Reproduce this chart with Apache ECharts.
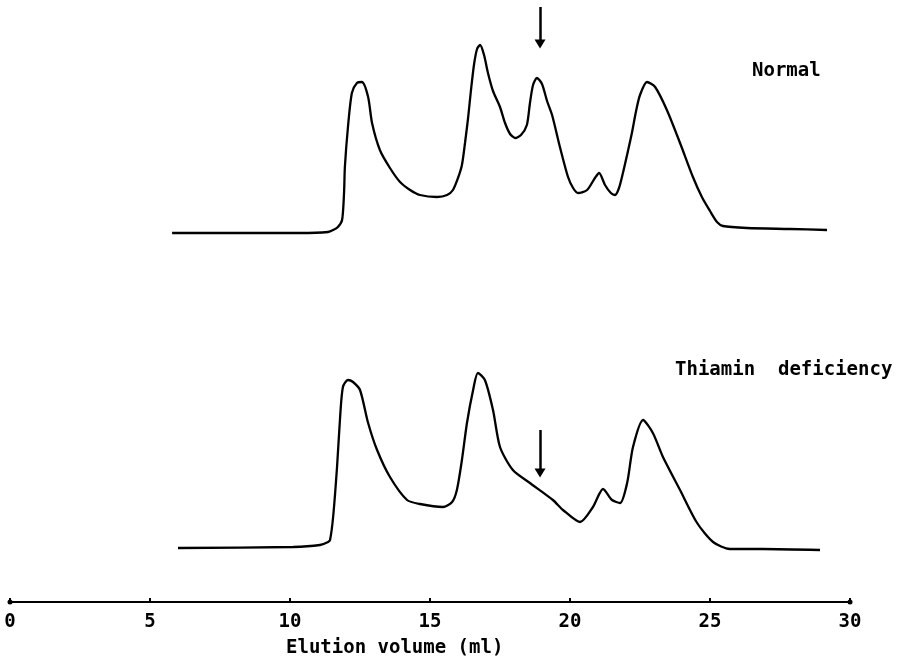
<!DOCTYPE html>
<html>
<head>
<meta charset="utf-8">
<script src="https://cdn.jsdelivr.net/npm/echarts@6/dist/echarts.min.js"></script>
<style>html,body{margin:0;padding:0;background:#fff;}#c{width:898px;height:666px;}</style>
</head>
<body>
<div id="c"></div>
<script>
// Elution volume (ml) and detector response (arbitrary units)
var normalX = [5.79, 8.57, 10.36, 11.36, 11.54, 11.71, 11.86, 11.93, 11.96, 12.07, 12.21, 12.39, 12.57, 12.79, 12.93, 13.21, 13.57, 13.93, 14.29, 14.64, 15.25, 15.61, 15.82, 16.00, 16.14, 16.25, 16.36, 16.46, 16.57, 16.68, 16.79, 16.93, 17.07, 17.25, 17.50, 17.68, 17.86, 18.04, 18.25, 18.46, 18.57, 18.68, 18.82, 19.00, 19.18, 19.36, 19.64, 19.93, 20.11, 20.29, 20.61, 20.89, 21.04, 21.25, 21.46, 21.61, 21.75, 21.89, 22.07, 22.21, 22.36, 22.50, 22.75, 23.04, 23.46, 23.93, 24.39, 24.71, 25.00, 25.25, 25.46, 26.32, 27.86, 29.18];
var normalY = [0.00, 0.00, 0.00, 0.01, 0.03, 0.06, 0.13, 0.40, 0.66, 1.06, 1.40, 1.50, 1.51, 1.36, 1.10, 0.83, 0.65, 0.51, 0.43, 0.38, 0.36, 0.38, 0.43, 0.55, 0.68, 0.90, 1.15, 1.42, 1.68, 1.84, 1.88, 1.78, 1.60, 1.42, 1.26, 1.10, 0.99, 0.95, 0.98, 1.08, 1.30, 1.48, 1.55, 1.49, 1.32, 1.18, 0.86, 0.56, 0.45, 0.40, 0.43, 0.55, 0.60, 0.48, 0.40, 0.38, 0.45, 0.60, 0.82, 1.00, 1.22, 1.38, 1.51, 1.46, 1.23, 0.90, 0.56, 0.36, 0.22, 0.11, 0.07, 0.05, 0.04, 0.03];

var thiaminX = [6.00, 10.11, 11.07, 11.36, 11.43, 11.54, 11.68, 11.79, 11.89, 12.07, 12.25, 12.50, 12.79, 13.11, 13.57, 14.18, 14.64, 15.46, 15.79, 15.96, 16.14, 16.32, 16.54, 16.71, 16.96, 17.25, 17.50, 17.96, 18.57, 19.39, 19.75, 20.36, 20.82, 21.18, 21.50, 21.79, 22.04, 22.25, 22.61, 22.96, 23.32, 23.93, 24.54, 25.11, 25.71, 26.89, 28.93];
var thiaminY = [0.00, 0.01, 0.03, 0.06, 0.08, 0.31, 0.81, 1.31, 1.61, 1.68, 1.66, 1.58, 1.25, 0.98, 0.71, 0.48, 0.44, 0.41, 0.46, 0.58, 0.88, 1.25, 1.58, 1.75, 1.68, 1.38, 1.01, 0.78, 0.65, 0.48, 0.38, 0.26, 0.41, 0.59, 0.48, 0.45, 0.65, 1.01, 1.28, 1.15, 0.91, 0.58, 0.25, 0.06, -0.01, -0.01, -0.02];

var xTicks = [0, 5, 10, 15, 20, 25, 30];
var arrowX = 18.93;
var normalArrow = [2.26, 1.89];
var thiaminArrow = [1.18, 0.75];

var seriesNames = ['Normal', 'Thiamin  deficiency'];
var axisTitle = 'Elution volume (ml)';

function pairs(xs, ys) { return xs.map(function (x, i) { return [x, ys[i]]; }); }

var FONT = '"DejaVu Sans Mono", "Liberation Mono", monospace';
var chart = echarts.init(document.getElementById('c'), null, { renderer: 'canvas' });

function arrowLine(vals) {
  return {
    silent: true,
    symbol: ['none', 'triangle'],
    symbolSize: [11, 9],
    label: { show: false },
    lineStyle: { color: '#000', width: 2.5, type: 'solid' },
    data: [[{ coord: [arrowX, vals[0]] }, { coord: [arrowX, vals[1]] }]]
  };
}

chart.setOption({
  animation: false,
  backgroundColor: '#fff',
  grid: [
    { left: 10, right: 48, top: 0, height: 233, outerBoundsMode: 'none', containLabel: false },
    { left: 10, right: 48, top: 318, height: 230, outerBoundsMode: 'none', containLabel: false }
  ],
  xAxis: [
    { gridIndex: 0, type: 'value', min: 0, max: 30, show: false },
    {
      gridIndex: 1, type: 'value', min: 0, max: 30, interval: 5, offset: 54,
      axisLine: { show: true, onZero: false, lineStyle: { color: '#000', width: 2.2 }, symbol: ['circle', 'circle'], symbolSize: [5, 5] },
      axisTick: { show: true, inside: true, length: 4, lineStyle: { color: '#000', width: 2 } },
      splitLine: { show: false },
      axisLabel: {
        margin: 11, color: '#000', fontFamily: FONT, fontWeight: 'bold', fontSize: 19,
        formatter: function (v) { return xTicks.indexOf(v) >= 0 ? String(v) : ''; }
      }
    }
  ],
  yAxis: [
    { gridIndex: 0, type: 'value', min: 0, max: 2.33, show: false },
    { gridIndex: 1, type: 'value', min: 0, max: 2.30, show: false }
  ],
  series: [
    {
      name: seriesNames[0], type: 'line', xAxisIndex: 0, yAxisIndex: 0,
      data: pairs(normalX, normalY), showSymbol: false, smooth: 0.25,
      clip: false,
      lineStyle: { color: '#000', width: 2.3 },
      markLine: arrowLine(normalArrow)
    },
    {
      name: seriesNames[1], type: 'line', xAxisIndex: 1, yAxisIndex: 1,
      data: pairs(thiaminX, thiaminY), showSymbol: false, smooth: 0.25,
      clip: false,
      lineStyle: { color: '#000', width: 2.3 },
      markLine: arrowLine(thiaminArrow)
    }
  ],
  graphic: [
    { type: 'text', left: 752, top: 62, style: { text: seriesNames[0], fill: '#000', font: 'bold 19px ' + FONT } },
    { type: 'text', left: 675, top: 361, style: { text: seriesNames[1], fill: '#000', font: 'bold 19px ' + FONT } },
    { type: 'text', left: 286, top: 639, style: { text: axisTitle, fill: '#000', font: 'bold 19px ' + FONT } }
  ]
});
</script>
</body>
</html>
